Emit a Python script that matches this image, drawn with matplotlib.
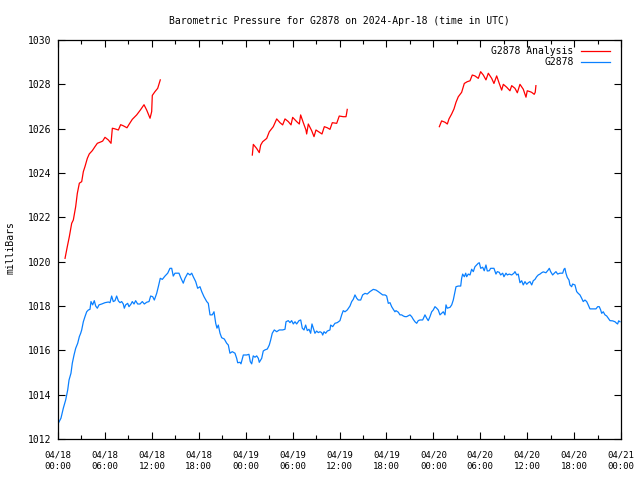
#!/usr/bin/env python3

from datetime import datetime, timedelta

import matplotlib

matplotlib.use("Agg")
import matplotlib.dates as mdates
import matplotlib.pyplot as plt
import numpy as np

START = datetime(2024, 4, 18, 0, 0)

# hours since 04/18 00:00 UTC; nan splits the analysis runs
ANALYSIS_HOURS = [
    0.9, 1.19, 1.45, 1.75, 1.96, 2.26, 2.47, 2.73, 3.03, 3.24, 3.45, 3.75, 4.0,
    4.39, 4.73, 5.03, 5.46, 5.71, 6.01, 6.44, 6.78, 6.95, 7.29, 7.72, 8.01, 8.35,
    8.82, 9.08, 9.5, 10.06, 10.53, 11.0, 11.34, 11.77, 11.98, 12.06, 12.4, 12.75,
    13.08,
    np.nan,
    24.85, 24.98, 25.4, 25.74, 25.92, 26.17, 26.69, 27.02, 27.53, 27.97, 28.39,
    28.73, 29.03, 29.45, 29.8, 30.01, 30.52, 30.86, 31.03, 31.37, 31.71, 31.8,
    32.01, 32.44, 32.74, 32.99, 33.42, 33.76, 34.06, 34.44, 34.78, 35.08, 35.64,
    35.97, 36.48, 36.83, 36.91, 36.99,
    np.nan,
    48.77, 49.06, 49.49, 49.79, 50.0, 50.34, 50.64, 50.9, 51.19, 51.62, 51.96,
    52.34, 52.69, 52.98, 53.32, 53.75, 54.05, 54.39, 54.73, 55.03, 55.46, 55.75,
    56.1, 56.43, 56.74, 56.95, 57.38, 57.8, 58.02, 58.44, 58.74, 59.08, 59.5,
    59.85, 60.01, 60.36, 60.57, 60.9, 61.03, 61.12,
]
ANALYSIS_MB = [
    1020.15, 1020.68, 1021.13, 1021.73, 1021.88, 1022.48, 1023.08, 1023.54,
    1023.61, 1024.06, 1024.29, 1024.66, 1024.86, 1025.01, 1025.19, 1025.34,
    1025.40, 1025.44, 1025.61, 1025.49, 1025.34, 1026.02, 1025.99, 1025.94,
    1026.18, 1026.13, 1026.04, 1026.19, 1026.42, 1026.62, 1026.84, 1027.08,
    1026.84, 1026.47, 1026.77, 1027.5, 1027.67, 1027.82, 1028.2,
    np.nan,
    1024.81, 1025.29, 1025.11, 1024.92, 1025.26, 1025.41, 1025.56, 1025.86,
    1026.09, 1026.44, 1026.27, 1026.17, 1026.44, 1026.32, 1026.17, 1026.51,
    1026.32, 1026.21, 1026.62, 1026.27, 1025.94, 1025.76, 1026.21, 1025.91,
    1025.64, 1025.94, 1025.84, 1025.76, 1026.09, 1026.04, 1025.97, 1026.27,
    1026.24, 1026.57, 1026.54, 1026.54, 1026.69, 1026.87,
    np.nan,
    1026.09, 1026.35, 1026.29, 1026.21, 1026.44, 1026.66, 1026.89, 1027.19,
    1027.44, 1027.64, 1028.04, 1028.12, 1028.16, 1028.42, 1028.38, 1028.27,
    1028.57, 1028.42, 1028.2, 1028.5, 1028.27, 1028.04, 1028.38, 1028.04,
    1027.74, 1028.0, 1027.87, 1027.71, 1027.94, 1027.82, 1027.62, 1028.0,
    1027.78, 1027.42, 1027.71, 1027.67, 1027.64, 1027.55, 1027.64, 1027.94,
]

OBS_HOURS = [
    0.04, 0.38, 0.68, 0.98, 1.24, 1.41, 1.66, 1.83, 2.05, 2.26, 2.52, 2.73, 2.9,
    3.03, 3.24, 3.45, 3.67, 3.88, 4.09, 4.22, 4.43, 4.64, 4.82, 5.03, 5.24, 5.59,
    6.01, 6.44, 6.65, 6.86, 7.07, 7.29, 7.5, 7.72, 7.93, 8.14, 8.35, 8.48, 8.65,
    8.91, 9.08, 9.34, 9.5, 9.72, 9.93, 10.19, 10.49, 10.78, 11.04, 11.34, 11.64,
    11.85, 12.11, 12.32, 12.62, 12.83, 13.08, 13.34, 13.68, 14.03, 14.32, 14.54,
    14.74, 14.96, 15.47, 15.73, 16.02, 16.24, 16.59, 16.88, 17.1, 17.3, 17.61,
    17.86, 18.16, 18.38, 18.67, 19.02, 19.22, 19.44, 19.73, 19.95, 20.17, 20.33,
    20.5, 20.72, 20.93, 21.27, 21.57, 21.78, 21.99, 22.29, 22.63, 22.85, 22.98,
    23.27, 23.4, 23.7, 24.13, 24.42, 24.59, 24.77, 24.97, 25.19, 25.41, 25.62,
    25.74, 26.05, 26.25, 26.47, 26.77, 27.02, 27.2, 27.4, 27.66, 27.97, 28.3,
    28.73, 29.03, 29.16, 29.45, 29.67, 29.88, 30.09, 30.31, 30.52, 30.82, 31.04,
    31.24, 31.46, 31.67, 31.88, 32.1, 32.31, 32.48, 32.65, 32.86, 33.08, 33.29,
    33.5, 33.72, 33.85, 34.02, 34.23, 34.44, 34.78, 34.87, 35.13, 35.42, 35.72,
    36.06, 36.28, 36.48, 36.7, 36.99, 37.34, 37.56, 37.76, 37.98, 38.2, 38.4,
    38.71, 38.96, 39.26, 39.55, 39.9, 40.32, 40.66, 40.96, 41.27, 41.52, 41.82,
    42.03, 42.24, 42.46, 42.67, 42.88, 43.09, 43.22, 43.52, 43.73, 43.95, 44.16,
    44.37, 44.59, 45.01, 45.23, 45.43, 45.65, 45.87, 46.07, 46.29, 46.64, 46.93,
    47.15, 47.35, 47.57, 47.79, 47.99, 48.21, 48.43, 48.63, 48.85, 49.27, 49.49,
    49.62, 49.78, 50.13, 50.35, 50.55, 50.68, 50.9, 51.19, 51.5, 51.62, 51.75,
    51.96, 52.14, 52.26, 52.47, 52.69, 52.9, 53.11, 53.32, 53.54, 53.75, 53.88,
    54.06, 54.31, 54.51, 54.73, 54.9, 55.15, 55.33, 55.75, 56.01, 56.18, 56.43,
    56.61, 56.87, 57.03, 57.29, 57.46, 57.71, 58.02, 58.31, 58.44, 58.66, 58.86,
    59.08, 59.3, 59.5, 59.72, 59.94, 60.14, 60.36, 60.58, 60.78, 61.0, 61.21,
    61.42, 61.64, 61.85, 62.06, 62.4, 62.7, 62.83, 63.0, 63.26, 63.47, 63.68,
    63.9, 64.19, 64.54, 64.71, 64.83, 64.96, 65.13, 65.35, 65.47, 65.69, 65.81,
    66.11, 66.33, 66.53, 66.75, 66.97, 67.17, 67.39, 67.61, 67.81, 68.03, 68.45,
    68.8, 69.02, 69.22, 69.4, 69.53, 69.73, 69.95, 70.17, 70.37, 70.59, 70.93,
    71.23, 71.44, 71.57, 71.7, 71.87,
]
OBS_MB = [
    1012.71, 1012.94, 1013.39, 1013.76, 1014.21, 1014.66, 1014.97, 1015.42,
    1015.79, 1016.09, 1016.32, 1016.62, 1016.77, 1016.92, 1017.29, 1017.52,
    1017.74, 1017.82, 1017.85, 1018.2, 1018.05, 1018.24, 1018.0, 1017.9,
    1018.05, 1018.09, 1018.15, 1018.18, 1018.15, 1018.45, 1018.2, 1018.24,
    1018.45, 1018.23, 1018.15, 1018.2, 1018.09, 1017.9, 1018.05, 1018.12,
    1017.97, 1018.09, 1018.2, 1018.09, 1018.24, 1018.09, 1018.09, 1018.2,
    1018.09, 1018.17, 1018.2, 1018.45, 1018.42, 1018.27, 1018.57, 1018.87,
    1019.25, 1019.2, 1019.35, 1019.48, 1019.7, 1019.7, 1019.35, 1019.48,
    1019.48, 1019.25, 1019.03, 1019.25, 1019.48, 1019.4, 1019.48, 1019.32,
    1019.1, 1018.8, 1018.87, 1018.65, 1018.42, 1018.2, 1018.12, 1017.6,
    1017.6, 1017.74, 1017.22, 1017.0, 1017.14, 1016.77, 1016.57, 1016.51,
    1016.32, 1016.24, 1015.87, 1015.94, 1015.87, 1015.64, 1015.44, 1015.46,
    1015.39, 1015.79, 1015.79, 1015.82, 1015.49, 1015.39, 1015.75, 1015.69,
    1015.75, 1015.64, 1015.46, 1015.64, 1015.97, 1016.02, 1016.06, 1016.24,
    1016.47, 1016.77, 1016.92, 1016.84, 1016.92, 1016.92, 1016.95, 1017.29,
    1017.34, 1017.25, 1017.34, 1017.19, 1017.29, 1017.19, 1017.34, 1017.37,
    1017.0, 1016.92, 1017.14, 1016.89, 1016.95, 1016.77, 1017.19, 1017.0,
    1016.77, 1016.87, 1016.8, 1016.84, 1016.8, 1016.69, 1016.84, 1016.77,
    1016.87, 1016.92, 1017.14, 1017.07, 1017.22, 1017.25, 1017.34, 1017.6,
    1017.79, 1017.74, 1017.82, 1018.0, 1018.2, 1018.3, 1018.5, 1018.35,
    1018.27, 1018.27, 1018.5, 1018.57, 1018.54, 1018.65, 1018.75, 1018.72,
    1018.65, 1018.57, 1018.5, 1018.5, 1018.45, 1018.12, 1018.15, 1017.97,
    1017.85, 1017.74, 1017.79, 1017.72, 1017.6, 1017.6, 1017.55, 1017.52,
    1017.52, 1017.6, 1017.52, 1017.4, 1017.29, 1017.22, 1017.34, 1017.37,
    1017.37, 1017.6, 1017.45, 1017.34, 1017.52, 1017.74, 1017.82, 1017.97,
    1017.9, 1017.82, 1017.6, 1017.74, 1017.6, 1018.05, 1017.9, 1017.94,
    1018.05, 1018.27, 1018.5, 1018.87, 1018.9, 1018.9, 1019.25, 1019.44,
    1019.32, 1019.48, 1019.32, 1019.44, 1019.4, 1019.66, 1019.55, 1019.77,
    1019.85, 1019.93, 1019.95, 1019.7, 1019.75, 1019.59, 1019.85, 1019.58,
    1019.59, 1019.7, 1019.7, 1019.44, 1019.55, 1019.52, 1019.4, 1019.48,
    1019.32, 1019.48, 1019.4, 1019.44, 1019.4, 1019.48, 1019.55, 1019.4,
    1019.44, 1019.05, 1019.14, 1018.95, 1019.1, 1018.98, 1019.05, 1019.1,
    1018.95, 1019.14, 1019.2, 1019.32, 1019.4, 1019.44, 1019.5, 1019.54,
    1019.5, 1019.63, 1019.7, 1019.55, 1019.4, 1019.48, 1019.55, 1019.44,
    1019.48, 1019.48, 1019.66, 1019.7, 1019.48, 1019.29, 1019.17, 1018.95,
    1018.87, 1018.99, 1018.95, 1018.65, 1018.57, 1018.5, 1018.35, 1018.2,
    1018.27, 1018.2, 1018.05, 1017.87, 1017.87, 1017.87, 1017.97, 1017.97,
    1017.82, 1017.67, 1017.74, 1017.6, 1017.55, 1017.45, 1017.34, 1017.33,
    1017.29, 1017.22, 1017.19, 1017.33, 1017.29,
]

ANALYSIS_COLOR = "#ff0000"
OBS_COLOR = "#0a80ff"
FONT = "DejaVu Sans Mono"

plt.rcParams.update(
    {
        "font.family": FONT,
        "font.size": 7,
        "xtick.labelsize": 6.5,
        "ytick.labelsize": 7,
    }
)


def to_num(hours):
    return [mdates.date2num(START + timedelta(hours=h)) if not np.isnan(h) else np.nan for h in hours]


def main():
    fig = plt.figure(figsize=(6.4, 4.8), dpi=100)
    ax = fig.add_axes([58 / 640, 41 / 480, 563 / 640, 399 / 480])

    ax.plot(to_num(ANALYSIS_HOURS), ANALYSIS_MB, color=ANALYSIS_COLOR, linewidth=0.9, label="G2878 Analysis")
    ax.plot(to_num(OBS_HOURS), OBS_MB, color=OBS_COLOR, linewidth=0.9, label="G2878")

    ax.set_xlim(mdates.date2num(START), mdates.date2num(START + timedelta(hours=72)))
    ax.set_ylim(1012, 1030)
    ax.set_yticks(range(1012, 1031, 2))

    ax.xaxis.set_major_locator(mdates.HourLocator(byhour=[0, 6, 12, 18]))
    ax.xaxis.set_minor_locator(mdates.HourLocator(byhour=[3, 9, 15, 21]))
    ax.xaxis.set_major_formatter(mdates.DateFormatter("%m/%d\n%H:%M"))

    ax.tick_params(which="major", direction="in", length=5, width=0.8, top=True, right=True)
    ax.tick_params(which="minor", direction="in", length=3, width=0.8, top=True, right=True)
    ax.tick_params(axis="x", which="major", pad=8.5)
    ax.tick_params(axis="y", which="major", pad=5)
    for lbl in ax.get_xticklabels():
        lbl.set_linespacing(1.3)
    for spine in ax.spines.values():
        spine.set_linewidth(0.9)

    ax.set_title("Barometric Pressure for G2878 on 2024-Apr-18 (time in UTC)", fontsize=7, pad=11.5)
    ax.set_ylabel("milliBars", fontsize=7)
    ax.yaxis.set_label_coords(-0.0755, 0.479)

    leg = ax.legend(
        loc="upper right",
        bbox_to_anchor=(609.5 / 640, (480 - 46) / 480),
        bbox_transform=fig.transFigure,
        frameon=False,
        markerfirst=False,
        handlelength=2.95,
        handletextpad=0.75,
        labelspacing=0.15,
        borderaxespad=0,
        borderpad=0,
        fontsize=7,
    )
    for text in leg.get_texts():
        text.set_ha("right")

    fig.savefig("out.png", dpi=100)
    plt.close(fig)


if __name__ == "__main__":
    main()
